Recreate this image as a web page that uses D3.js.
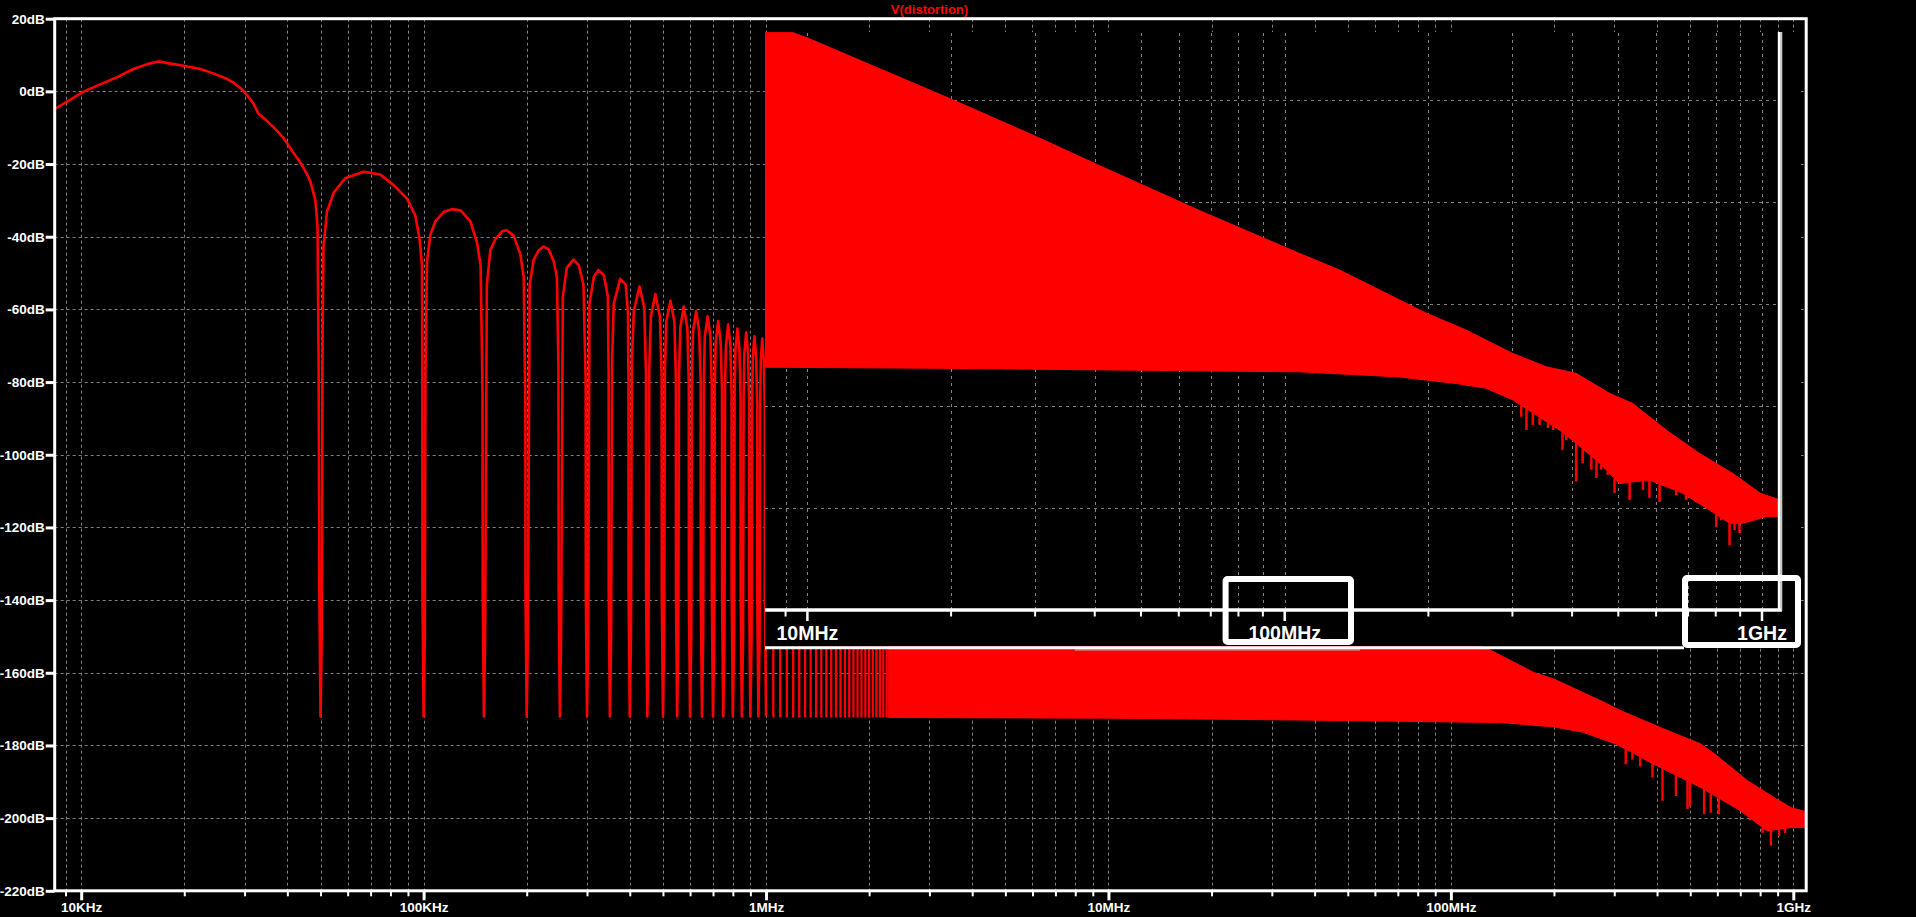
<!DOCTYPE html>
<html><head><meta charset="utf-8">
<script src="https://cdn.jsdelivr.net/npm/d3@7"></script>
<style>html,body{margin:0;padding:0;background:#000;overflow:hidden}</style>
</head><body><svg id="c" width="1916" height="917"></svg>
<script>
// ---------------- DATA ----------------
// Main trace V(distortion): lobes below 1 MHz, [frequency Hz, dB]
const mainLobes = [
 [8350,-4.9],[10200,0],[11400,2],[12700,3.85],[14200,6.15],[15600,7.5],[16800,8.25],[18600,7.5],[19900,7.06],[22300,6.15],[24300,4.95],[26700,3.4],[27800,2.47],[29500,0.5],[30500,-1],[31900,-3.5],[32900,-6.1],[34000,-7.2],[36500,-9.9],[38900,-12.7],[41600,-16.8],[43600,-19.5],[45600,-22.7],[46700,-24.8],[48300,-30],[49000,-37.4],[49350,-73],[49600,-138],[50000,-172],
 [50400,-150],[50700,-65.8],[51000,-42.7],[52200,-33.2],[54600,-27.9],[59000,-23.9],[66800,-22.1],[74700,-22.9],[81700,-25.8],[89400,-29.5],[94600,-34.2],[97300,-40.6],[98900,-47.9],[99100,-79.5],[99200,-138],[100000,-172],
 [100800,-150],[101200,-79.5],[102300,-46.9],[104600,-39.5],[108200,-35.8],[114400,-33.2],[121000,-32.4],[128000,-32.7],[137000,-35.8],[143200,-41.6],[146700,-47.9],[148600,-82.7],[148800,-138],[150000,-172],
 [151200,-150],[153000,-53.2],[156600,-43.7],[162300,-40.6],[169600,-38.5],[174800,-38.2],[183000,-39.7],[191600,-44.8],[196000,-51.1],[198200,-85.9],[198400,-138],[200000,-172],
 [201600,-150],[204000,-53.2],[209600,-46.3],[217000,-43.7],[224000,-42.7],[232000,-43.5],[240000,-46.9],[245000,-51.1],[247600,-75.3],[248000,-138],[250000,-172],
 [252000,-150],[255000,-56.4],[262000,-48.5],[274000,-46.3],[284000,-47.9],[293000,-53.2],[297300,-79.5],[297600,-138],[300000,-172],
 [302400,-150],[305000,-58.5],[314000,-51.1],[324000,-49.2],[336000,-50.6],[345000,-56.4],[347000,-78],[347200,-138],[350000,-172],
 [352800,-150],[355000,-75],[359000,-58.5],[375000,-51.6],[389000,-53.2],[395000,-60.5],[396600,-80],[396800,-138],[400000,-172],
 [403200,-150],[405500,-75],[411000,-60.5],[427000,-53.7],[441000,-59.5],[446000,-78],[446400,-138],[450000,-172],
 [453600,-150],[456000,-76],[461000,-62],[475000,-55.8],[490000,-62],[495600,-79],[496000,-138],[500000,-172],
 [504000,-150],[506500,-77],[511000,-63.5],[526000,-57.6],[540000,-63.5],[545300,-79],[545600,-138],[550000,-172],
 [554400,-150],[557000,-78],[562000,-65],[575000,-59.2],[589000,-65],[594800,-80],[595200,-138],[600000,-172],
 [604800,-150],[607500,-79],[612000,-66],[625000,-60.5],[638000,-66],[644400,-80],[644800,-138],[650000,-172],
 [655200,-150],[658000,-80],[662500,-67.5],[675000,-61.9],[688000,-67.5],[694000,-81],[694400,-138],[700000,-172],
 [705600,-150],[708500,-81],[713000,-69],[725000,-63.2],[737000,-69],[743600,-82],[744000,-138],[750000,-172],
 [756000,-150],[759000,-82],[763500,-70],[775000,-64.2],[787000,-70],[793200,-83],[793600,-138],[800000,-172],
 [806400,-150],[809500,-83],[814000,-71],[825000,-65.3],[836000,-71],[842800,-84],[843200,-138],[850000,-172],
 [856800,-150],[860000,-84],[864500,-72],[875000,-66.4],[886000,-72],[892400,-85],[892800,-138],[900000,-172],
 [907200,-150],[910500,-85],[915000,-73],[925000,-67.4],[935500,-73],[942000,-86],[942400,-138],[950000,-172],
 [957600,-150],[961000,-86],[965500,-74],[975000,-68],[985000,-74],[991600,-87],[992000,-138],[1000000,-172]
];
// Nulls of the main trace between 1 MHz and the point where they merge (Hz)
const combNulls = [1.05e6,1.10e6,1.15e6,1.20e6,1.25e6,1.30e6,1.35e6,1.40e6,1.45e6,1.50e6,1.55e6,1.60e6,1.65e6,1.70e6,1.75e6,1.80e6,1.85e6,1.90e6,1.95e6,2.00e6,2.05e6,2.10e6,2.15e6,2.20e6,2.25e6];
const combFloorDb = -172.3;
// Dense part of the main trace: upper and lower envelopes [Hz, dB]
const mainTop = [[1.0e6,-68],[2.28e6,-82],[10e6,-108],[50e6,-137],[100e6,-149],[132e6,-154],[174.5e6,-159.9],[199.7e6,-161.7],[274e6,-167.7],[313e6,-170.4],[410e6,-175.1],[537e6,-179.6],[600e6,-182.9],[735e6,-189.7],[879e6,-194.3],[983e6,-197.1],[1.095e9,-198.3]];
const mainBottom = [[2.28e6,-172.3],[10e6,-172.5],[36.4e6,-173],[140e6,-173.7],[200e6,-174.9],[244e6,-176.4],[303e6,-179.6],[340e6,-182],[370e6,-184],[410e6,-186.1],[537e6,-191.6],[702e6,-198],[837e6,-203.5],[983e6,-202.6],[1.095e9,-202.6]];
const mainSpikes = [[324e6,-185.2],[339e6,-183.9],[357e6,-185.8],[388e6,-188.8],[415e6,-195.2],[454e6,-193.9],[491e6,-197.5],[499e6,-196.8],[549e6,-198.9],[574e6,-198.5],[606e6,-198.9],[747e6,-200.6],[813e6,-204],[860e6,-207.6],[909e6,-204.9],[946e6,-204.1]];
// Pasted inset trace: upper and lower envelopes [Hz, dB]
const insetTop = [[8.15e6,-26.7],[9.27e6,-26.7],[10.04e6,-27.9],[20.2e6,-40],[30.2e6,-47.2],[41e6,-52.9],[66.4e6,-61.7],[107.5e6,-70.1],[130e6,-73.3],[174e6,-79.2],[198e6,-81.8],[240e6,-85.1],[300.6e6,-89.7],[353e6,-92.3],[408e6,-93.6],[479e6,-97.5],[536e6,-99.5],[630e6,-104.7],[740e6,-109.3],[868e6,-113.2],[992e6,-117.1],[1.088e9,-118.4]];
const insetBottom = [[8.15e6,-92.4],[18.95e6,-92.6],[107.5e6,-93.3],[174e6,-94.3],[228.8e6,-95.6],[264e6,-96.5],[300.6e6,-98.8],[376e6,-104.7],[408e6,-107.3],[456.6e6,-111.2],[503e6,-115.2],[581e6,-114.5],[682e6,-117.1],[776e6,-120.4],[855e6,-123],[911e6,-123],[1.02e9,-121.7],[1.088e9,-121.7]];
const insetSpikes = [[313e6,-102.1],[321e6,-104.7],[331e6,-103.7],[342e6,-103.7],[356e6,-104.3],[365e6,-104.7],[382e6,-108.6],[389e6,-106.7],[408e6,-114.8],[421e6,-111.2],[439e6,-112.5],[450e6,-114.1],[460e6,-112.5],[475e6,-113.5],[491e6,-117.1],[507e6,-114.9],[528e6,-118.4],[563e6,-116.5],[581e6,-118],[610e6,-118.8],[661e6,-117.5],[693e6,-118.4],[802e6,-123.7],[821e6,-122.4],[855e6,-127.3],[876e6,-124.3],[897e6,-124.9]];
// Axes
const yTickValues = [20,0,-20,-40,-60,-80,-100,-120,-140,-160,-180,-200,-220];
const yTickLabels = ["20dB","0dB","-20dB","-40dB","-60dB","-80dB","-100dB","-120dB","-140dB","-160dB","-180dB","-200dB","-220dB"];
const xDecades = [1e4,1e5,1e6,1e7,1e8,1e9];
const xDecadeLabels = ["10KHz","100KHz","1MHz","10MHz","100MHz","1GHz"];
const insetDecades = [1e7,1e8,1e9];
const insetDecadeLabels = ["10MHz","100MHz","1GHz"];
const insetGridDb = [-40,-60,-80,-100,-120];
const titleText = "V(distortion)";

// ---------------- DRAW ----------------
const W=1916, H=917;
const PL=54.7, PR=1806.2, PT=18.7, PB=890.8;
const FONT = "'Liberation Sans', Arial, sans-serif";
const RED = "#ff0000", GRID = "#808080";
const svg = d3.select('#c');
svg.append('rect').attr('width',W).attr('height',H).attr('fill','#000');
const defs = svg.append('defs');
defs.append('clipPath').attr('id','plotClip').append('rect').attr('x',PL).attr('y',PT).attr('width',PR-PL).attr('height',PB-PT);
defs.append('clipPath').attr('id','insetClip').append('rect').attr('x',765).attr('y',32).attr('width',1780-765).attr('height',610-32);

const xRef = d3.scaleLog().domain([1e4,1e9]).range([81.2,1793.3]);
const x = xRef.copy().domain([xRef.invert(PL), xRef.invert(PR)]).range([PL,PR]);
const y = d3.scaleLinear().domain([20,-220]).range([PT,PB]);

function interpLog(arr, f){
  if (f<=arr[0][0]) return arr[0][1];
  for (let i=1;i<arr.length;i++){
    if (f<=arr[i][0]){
      const a=arr[i-1], b=arr[i];
      const t=(Math.log(f)-Math.log(a[0]))/(Math.log(b[0])-Math.log(a[0]));
      return a[1]+t*(b[1]-a[1]);
    }
  }
  return arr[arr.length-1][1];
}
const isDecade = f => Math.abs(Math.log10(f)-Math.round(Math.log10(f)))<1e-9;

// main grid
const grid = svg.append('g').attr('stroke',GRID).attr('stroke-width',1).attr('stroke-dasharray','3,3');
const xt = x.ticks();
grid.selectAll('line.v').data(xt.filter(f=>x(f)>PL+2 && x(f)<PR-2)).join('line')
  .attr('x1',d=>Math.round(x(d))+0.5).attr('x2',d=>Math.round(x(d))+0.5).attr('y1',PT).attr('y2',PB);
grid.selectAll('line.h').data(yTickValues.slice(1,-1)).join('line')
  .attr('x1',PL).attr('x2',PR).attr('y1',d=>Math.round(y(d))+0.5).attr('y2',d=>Math.round(y(d))+0.5);

// main data
const mg = svg.append('g').attr('clip-path','url(#plotClip)');
const line = d3.line().x(d=>x(d[0])).y(d=>y(d[1]));
mg.append('path').attr('d',line(mainLobes)).attr('fill','none').attr('stroke',RED).attr('stroke-width',2.6).attr('stroke-linejoin','round');
mg.selectAll('line.comb').data(combNulls).join('line')
  .attr('x1',d=>x(d)).attr('x2',d=>x(d)).attr('y1',d=>y(interpLog(mainTop,d))).attr('y2',y(combFloorDb))
  .attr('stroke',RED).attr('stroke-width',2.3);
const topPart = mainTop.filter(d=>d[0]>=mainBottom[0][0]);
const poly = topPart.concat(mainBottom.slice().reverse());
mg.append('path').attr('d',line(poly)+'Z').attr('fill',RED).attr('stroke',RED).attr('stroke-width',1);
mg.selectAll('line.sp').data(mainSpikes).join('line')
  .attr('x1',d=>x(d[0])).attr('x2',d=>x(d[0])).attr('y1',d=>y(interpLog(mainBottom,d[0]))).attr('y2',d=>y(d[1]))
  .attr('stroke',RED).attr('stroke-width',2.4);

// frame
svg.append('rect').attr('x',PL).attr('y',PT).attr('width',PR-PL).attr('height',PB-PT)
  .attr('fill','none').attr('stroke','#fff').attr('stroke-width',3);

// y axis
const yAxis = d3.axisLeft(y).tickValues(yTickValues).tickFormat((d,i)=>yTickLabels[i]).tickSize(9).tickPadding(1);
const ya = svg.append('g').attr('transform',`translate(${PL},0)`).call(yAxis);
ya.select('.domain').remove();
ya.selectAll('.tick line').attr('stroke','#fff').attr('stroke-width',3);
ya.selectAll('.tick text').attr('fill','#fff').attr('font-family',FONT).attr('font-weight','bold').attr('font-size','13.5px');

// x axis
const xAxis = d3.axisBottom(x).tickValues(xt).tickFormat(d=>{const i=xDecades.findIndex(v=>Math.abs(v-d)/v<1e-6); return i>=0?xDecadeLabels[i]:'';}).tickSize(5).tickPadding(0);
const xa = svg.append('g').attr('transform',`translate(0,${PB})`).call(xAxis);
xa.select('.domain').remove();
xa.selectAll('.tick line').attr('stroke','#fff').attr('stroke-width',d=>isDecade(d)?3:2).attr('y2',d=>isDecade(d)?9.5:5.5);
xa.selectAll('.tick text').attr('fill','#fff').attr('font-family',FONT).attr('font-weight','bold').attr('font-size','13.5px').attr('y',21).attr('dy',0);

// title
svg.append('text').attr('x',929.5).attr('y',13.5).attr('text-anchor','middle').attr('fill',RED)
  .attr('font-family',FONT).attr('font-weight','bold').attr('font-size','13px').text(titleText);

// ---------------- INSET (pasted plot) ----------------
const ix = d3.scaleLog().domain([1e7,1e9]).range([807.4,1762]);
const iy = d3.scaleLinear().domain([-40,-140]).range([100,610]);
const ins = svg.append('g');
ins.append('rect').attr('x',765).attr('y',32).attr('width',1801-765).attr('height',646-32).attr('fill','#000');
const ig = ins.append('g').attr('stroke',GRID).attr('stroke-width',1).attr('stroke-dasharray','3,4');
const ixDom = ix.copy().domain([ix.invert(765), ix.invert(1780)]);
const ixt = ixDom.ticks();
ig.selectAll('line.v').data(ixt).join('line')
  .attr('x1',d=>Math.round(ix(d))+0.5).attr('x2',d=>Math.round(ix(d))+0.5).attr('y1',33).attr('y2',610);
ig.selectAll('line.h').data(insetGridDb).join('line')
  .attr('x1',765).attr('x2',1778).attr('y1',d=>Math.round(iy(d))+0.5).attr('y2',d=>Math.round(iy(d))+0.5);
const idata = ins.append('g').attr('clip-path','url(#insetClip)');
const iline = d3.line().x(d=>ix(d[0])).y(d=>iy(d[1]));
idata.append('path').attr('d',iline(insetTop.concat(insetBottom.slice().reverse()))+'Z').attr('fill',RED).attr('stroke',RED).attr('stroke-width',1);
idata.selectAll('line.sp').data(insetSpikes).join('line')
  .attr('x1',d=>ix(d[0])).attr('x2',d=>ix(d[0])).attr('y1',d=>iy(interpLog(insetBottom,d[0]))).attr('y2',d=>iy(d[1]))
  .attr('stroke',RED).attr('stroke-width',2.5);
// inset axes
ins.append('line').attr('x1',765).attr('x2',1782).attr('y1',610).attr('y2',610).attr('stroke','#fff').attr('stroke-width',3.5);
ins.append('line').attr('x1',1779.3).attr('x2',1779.3).attr('y1',32).attr('y2',611).attr('stroke','#fff').attr('stroke-width',3);
ins.append('line').attr('x1',1781.6).attr('x2',1781.6).attr('y1',32).attr('y2',611).attr('stroke','#c8c8c8').attr('stroke-width',1.4);
ins.selectAll('line.itk').data(ixt).join('line')
  .attr('x1',d=>ix(d)).attr('x2',d=>ix(d)).attr('y1',610).attr('y2',d=>isDecade(d)?621:616.5)
  .attr('stroke','#fff').attr('stroke-width',d=>isDecade(d)?2.5:2);
ins.selectAll('text.il').data(insetDecades).join('text')
  .attr('x',d=>ix(d)).attr('y',640).attr('text-anchor','middle').attr('fill','#fff')
  .attr('font-family',FONT).attr('font-weight','bold').attr('font-size','19.5px')
  .text((d,i)=>insetDecadeLabels[i]);
ins.append('line').attr('x1',765).attr('x2',1684).attr('y1',647.7).attr('y2',647.7).attr('stroke','#fff').attr('stroke-width',3);
ins.append('line').attr('x1',1075).attr('x2',1360).attr('y1',649.8).attr('y2',649.8).attr('stroke','#b4b4b4').attr('stroke-width',1.2);
// annotation boxes
ins.append('rect').attr('x',1225.6).attr('y',579).attr('width',125.4).attr('height',63).attr('rx',2)
  .attr('fill','none').attr('stroke','#fff').attr('stroke-width',6);
ins.append('rect').attr('x',1685).attr('y',578).attr('width',113).attr('height',67).attr('rx',2)
  .attr('fill','none').attr('stroke','#fff').attr('stroke-width',6);
</script></body></html>
